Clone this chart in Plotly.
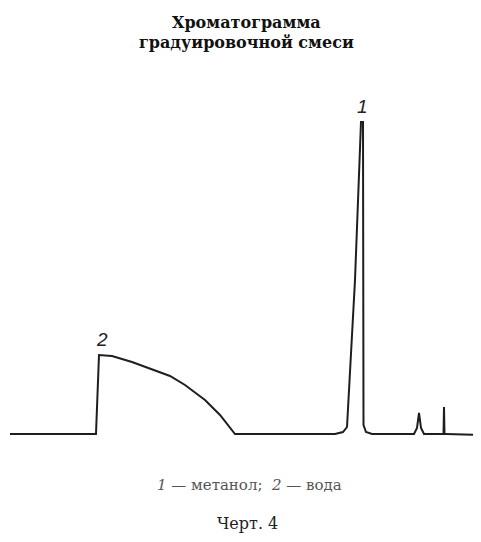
import plotly.graph_objects as go

# Chromatogram trace: retention position (arbitrary units) and detector signal (arbitrary units)
retention = [10, 96, 99, 112, 132, 152, 170, 185, 205, 220, 230, 235,
             335, 343, 347, 355, 361, 363, 363.5, 366, 372,
             414, 417, 419, 421, 424,
             442, 443.5, 444, 444.5, 446, 481]
signal = [0, 0, 79, 78, 72, 65, 58, 49, 34, 19, 6, 0,
          0, 2, 7, 154, 312, 312, 9, 2, 0,
          0, 6, 21, 6, 0,
          0, 0, 27, 0, 0, -1]

peak_labels = ["1", "2"]
peak_label_x = [362, 102]
peak_label_y = [328, 95]

title_lines = ["Хроматограмма", "градуировочной смеси"]
legend_text = "<i>1</i> — метанол;  <i>2</i> — вода"
figure_caption = "Черт. 4"

OFF = 8  # page body margin
W, H = 481 - 2 * OFF, 542 - 2 * OFF
BASE = 434


def px(X):
    return (X - OFF) / W


def py(Y):
    return 1 - (Y - OFF) / H


fig = go.Figure()
fig.add_trace(go.Scatter(
    x=retention, y=signal, mode="lines",
    line=dict(color="#1e1e1e", width=2),
    hoverinfo="skip", showlegend=False,
))

for t, xv, yv in zip(peak_labels, peak_label_x, peak_label_y):
    fig.add_annotation(x=xv, y=yv, text=f"<i>{t}</i>", showarrow=False,
                       xanchor="center", yanchor="middle",
                       font=dict(family="Liberation Sans", size=19, color="#222"))

fig.add_annotation(x=px(246), y=py(22), xref="paper", yref="paper",
                   xanchor="center", yanchor="middle",
                   text=f"<b>{title_lines[0]}</b>", showarrow=False,
                   font=dict(family="DejaVu Serif", size=16, color="#111"))
fig.add_annotation(x=px(246), y=py(43), xref="paper", yref="paper",
                   xanchor="center", yanchor="middle",
                   text=f"<b>{title_lines[1]}</b>", showarrow=False,
                   font=dict(family="DejaVu Serif", size=16, color="#111"))
fig.add_annotation(x=px(249), y=py(485), xref="paper", yref="paper",
                   xanchor="center", yanchor="middle",
                   text=legend_text, showarrow=False,
                   font=dict(family="DejaVu Serif", size=15, color="#555"))
fig.add_annotation(x=px(247), y=py(523), xref="paper", yref="paper",
                   xanchor="center", yanchor="middle",
                   text=figure_caption, showarrow=False,
                   font=dict(family="DejaVu Serif", size=16, color="#222"))

fig.update_layout(
    width=W, height=H,
    margin=dict(l=0, r=0, t=0, b=0),
    paper_bgcolor="#ffffff", plot_bgcolor="#ffffff",
    xaxis=dict(range=[OFF, OFF + W], visible=False, fixedrange=True),
    yaxis=dict(range=[BASE - (OFF + H), BASE - OFF], visible=False, fixedrange=True),
)

fig.write_html("out.html", config={"displayModeBar": False})
